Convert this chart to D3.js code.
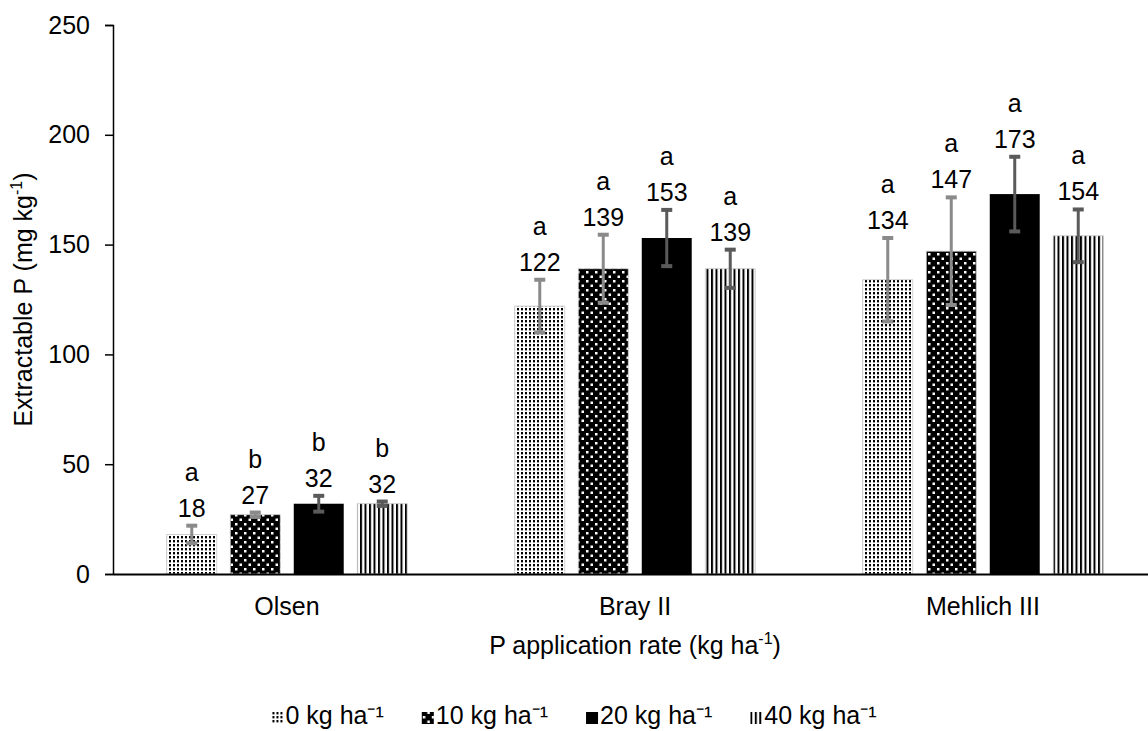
<!DOCTYPE html>
<html lang="en">

<head>
  <meta charset="UTF-8">
  <title>Extractable P</title>
  <style>
    * {
      padding: 0;
      margin: 0;
    }

    body {
      background: #fff;
    }

    svg text {
      font-family: Arial, "Liberation Sans", sans-serif;
      fill: #000;
    }
  </style>
</head>

<body>
  <svg id="svg"></svg>
  <script src="https://cdnjs.cloudflare.com/ajax/libs/d3/7.8.5/d3.min.js"></script>
  <script>
    const categories = ['Olsen', 'Bray II', 'Mehlich III']
    const rates = ['0', '10', '20', '40']
    const rateLabels = ['0 kg ha\u207B\u00B9', '10 kg ha\u207B\u00B9', '20 kg ha\u207B\u00B9', '40 kg ha\u207B\u00B9']
    // one row per category, one value per rate
    const means = [
      [18, 27, 32, 32],
      [122, 139, 153, 139],
      [134, 147, 173, 154]
    ]
    const errors = [
      [4, 1, 3.6, 1],
      [12, 15.5, 12.8, 8.7],
      [19, 24.5, 17, 12]
    ]
    const letters = [
      ['a', 'b', 'b', 'b'],
      ['a', 'a', 'a', 'a'],
      ['a', 'a', 'a', 'a']
    ]
    const yTicks = [0, 50, 100, 150, 200, 250]

    const dimension = {
      width: 1148,
      height: 731,
      margin: { top: 25, left: 113, bottom: 157 }
    }
    const fontSize = '25px'

    const svg = d3.select('#svg')
      .attr('width', dimension.width)
      .attr('height', dimension.height)

    // fill patterns
    const defs = svg.append('defs')
    const dots = defs.append('pattern').attr('id', 'pat0')
      .attr('patternUnits', 'userSpaceOnUse').attr('width', 4).attr('height', 4)
    dots.append('rect').attr('width', 4).attr('height', 4).attr('fill', '#fff')
    dots.append('rect').attr('x', 1).attr('y', 0).attr('width', 2).attr('height', 2).attr('fill', '#000')
    dots.append('rect').attr('x', 1).attr('y', 2).attr('width', 2).attr('height', 1).attr('fill', '#999')

    const confetti = defs.append('pattern').attr('id', 'pat1')
      .attr('patternUnits', 'userSpaceOnUse').attr('width', 9).attr('height', 9)
    confetti.append('rect').attr('width', 9).attr('height', 9).attr('fill', '#000')
    confetti.append('rect').attr('x', 1).attr('y', 1).attr('width', 2.5).attr('height', 2.5).attr('fill', '#fff')
    confetti.append('rect').attr('x', 5.5).attr('y', 5.5).attr('width', 2.5).attr('height', 2.5).attr('fill', '#fff')

    const stripes = defs.append('pattern').attr('id', 'pat3')
      .attr('patternUnits', 'userSpaceOnUse').attr('width', 4.5).attr('height', 4)
    stripes.append('rect').attr('width', 4.5).attr('height', 4).attr('fill', '#fff')
    stripes.append('rect').attr('x', 0).attr('width', 2).attr('height', 4).attr('fill', '#000')

    const fills = ['url(#pat0)', 'url(#pat1)', '#000', 'url(#pat3)']
    const errColors = ['#8a8a8a', '#8a8a8a', '#5a5a5a', '#5a5a5a']

    const y = d3.scaleLinear()
      .domain([0, 250])
      .range([dimension.height - dimension.margin.bottom, dimension.margin.top])

    const x0 = d3.scaleBand()
      .domain(categories)
      .range([dimension.margin.left, dimension.margin.left + 3 * 348])

    const x1 = d3.scaleBand()
      .domain(rates)
      .range([0, x0.bandwidth()])
      .paddingInner(0.213)
      .paddingOuter(0.847)

    // y axis
    const yAxis = d3.axisLeft(y).tickValues(yTicks).tickSize(8).tickPadding(15)
    const yG = svg.append('g')
      .attr('transform', `translate(${dimension.margin.left},0)`)
      .call(yAxis)
    yG.select('.domain').attr('stroke-width', 1.5)
    yG.selectAll('.tick line').attr('stroke-width', 1.5)
    yG.selectAll('.tick text').style('font-size', fontSize).attr('fill', '#000')

    // bars
    const rows = categories.map((c, i) => rates.map((r, j) => ({
      cat: c, rate: r, j, value: means[i][j], err: errors[i][j], letter: letters[i][j]
    }))).flat()

    const bars = svg.append('g')
    bars.selectAll('rect')
      .data(rows)
      .join('rect')
      .attr('x', d => x0(d.cat) + x1(d.rate))
      .attr('y', d => y(d.value))
      .attr('width', x1.bandwidth())
      .attr('height', d => y(0) - y(d.value))
      .attr('fill', d => fills[d.j])
      .attr('stroke', d => d.j === 2 ? 'none' : '#c8c8c8')
      .attr('stroke-width', 0.8)

    // x axis
    const xAxis = d3.axisBottom(x0).tickSize(0).tickPadding(23)
    const xG = svg.append('g')
      .attr('transform', `translate(0,${y(0)})`)
      .call(xAxis)
    xG.select('.domain').attr('stroke-width', 2)
    xG.selectAll('.tick text').style('font-size', fontSize).attr('fill', '#000')

    // error bars
    const eb = svg.append('g')
      .selectAll('g')
      .data(rows)
      .join('g')
      .attr('transform', d => `translate(${x0(d.cat) + x1(d.rate) + x1.bandwidth() / 2},0)`)
    eb.append('line')
      .attr('y1', d => y(d.value + d.err))
      .attr('y2', d => y(d.value - d.err))
      .attr('stroke', d => errColors[d.j])
      .attr('stroke-width', 3)
    eb.append('rect')
      .attr('x', -5.5).attr('width', 11)
      .attr('y', d => y(d.value + d.err) - 2).attr('height', 4)
      .attr('fill', d => errColors[d.j])
    eb.append('rect')
      .attr('x', -5.5).attr('width', 11)
      .attr('y', d => y(d.value - d.err) - 2).attr('height', 4)
      .attr('fill', d => errColors[d.j])

    // value and letter labels
    eb.append('text')
      .attr('text-anchor', 'middle')
      .attr('y', d => y(d.value + d.err) - 9)
      .style('font-size', fontSize)
      .text(d => d.value)
    eb.append('text')
      .attr('text-anchor', 'middle')
      .attr('y', d => y(d.value + d.err) - 45)
      .style('font-size', fontSize)
      .text(d => d.letter)

    // axis titles
    const xTitle = svg.append('text')
      .attr('x', 635)
      .attr('y', 654)
      .attr('text-anchor', 'middle')
      .style('font-size', fontSize)
    xTitle.append('tspan').text('P application rate (kg ha')
    xTitle.append('tspan').attr('dy', -10).style('font-size', '16px').text('-1')
    xTitle.append('tspan').attr('dy', 10).text(')')

    const yTitle = svg.append('text')
      .attr('transform', `translate(32,${(y(0) + y(250)) / 2}) rotate(-90)`)
      .attr('text-anchor', 'middle')
      .style('font-size', fontSize)
    yTitle.append('tspan').text('Extractable P (mg kg')
    yTitle.append('tspan').attr('dy', -10).style('font-size', '16px').text('-1')
    yTitle.append('tspan').attr('dy', 10).text(')')

    // legend
    const legend = svg.append('g').attr('transform', 'translate(0,724)')
    const items = legend.selectAll('g')
      .data(rates)
      .join('g')
    items.append('rect')
      .attr('y', -12).attr('width', 12).attr('height', 12)
      .attr('fill', (d, i) => fills[i])
    items.append('text')
      .attr('x', 14)
      .style('font-size', fontSize)
      .text((d, i) => rateLabels[i])

    const gap = 38
    let pos = 0
    const offsets = []
    items.each(function () {
      offsets.push(pos)
      pos += 14 + this.querySelector('text').getComputedTextLength() + gap
    })
    const total = pos - gap
    const start = dimension.width / 2 - total / 2
    items.attr('transform', (d, i) => `translate(${start + offsets[i]},0)`)
  </script>
</body>

</html>
